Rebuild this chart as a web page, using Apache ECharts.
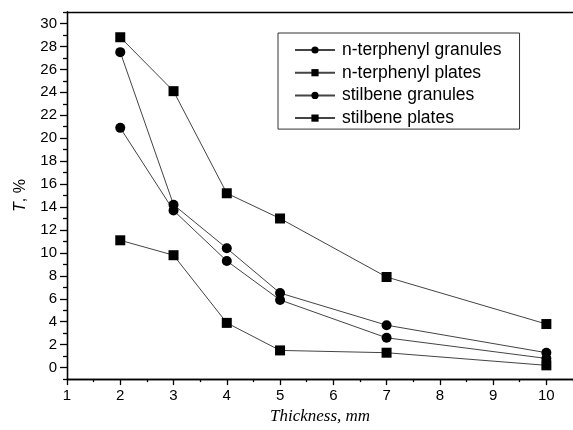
<!DOCTYPE html>
<html>
<head>
<meta charset="utf-8">
<script src="https://cdn.jsdelivr.net/npm/echarts@6/dist/echarts.min.js"></script>
<style>html,body{margin:0;padding:0;background:#fff}#c{width:573px;height:430px}</style>
</head>
<body>
<div id="c"></div>
<script>
const xValues = [2, 3, 4, 5, 7, 10];
const ntGranules = [27.5, 14.2, 10.4, 6.5, 3.7, 1.3];
const ntPlates = [28.8, 24.1, 15.2, 13.0, 7.9, 3.8];
const stGranules = [20.9, 13.7, 9.3, 5.9, 2.6, 0.8];
const stPlates = [11.1, 9.8, 3.9, 1.5, 1.3, 0.2];
const seriesNames = ['n-terphenyl granules', 'n-terphenyl plates', 'stilbene granules', 'stilbene plates'];
const xMajorTicks = [1, 2, 3, 4, 5, 6, 7, 8, 9, 10];
const xMinorTicks = [1.5, 2.5, 3.5, 4.5, 5.5, 6.5, 7.5, 8.5, 9.5, 10.5];
const yMajorTicks = [0, 2, 4, 6, 8, 10, 12, 14, 16, 18, 20, 22, 24, 26, 28, 30];
const yMinorTicks = [-1, 1, 3, 5, 7, 9, 11, 13, 15, 17, 19, 21, 23, 25, 27, 29, 31];

const pairs = arr => xValues.map((x, i) => [x, arr[i]]);
const font = 'Liberation Sans, Arial, sans-serif';
const chart = echarts.init(document.getElementById('c'), null, {renderer: 'canvas'});

const lineStyle = {color: '#444', width: 1};
function mk(name, data, symbol, size) {
  return {
    name, type: 'line', data: pairs(data), symbol, symbolSize: size,
    lineStyle, itemStyle: {color: '#000', borderWidth: 0}, animation: false, z: 3
  };
}

const baseX = {
  type: 'value', min: 1, max: 10.5, gridIndex: 0,
  splitLine: {show: false},
  axisLine: {show: true, onZero: false, lineStyle: {color: '#000', width: 1.3}},
};
const baseY = {
  type: 'value', min: -1, max: 31, gridIndex: 0,
  splitLine: {show: false},
  axisLine: {show: true, onZero: false, lineStyle: {color: '#000', width: 1.3}},
};

chart.setOption({
  animation: false,
  backgroundColor: '#fff',
  grid: {left: 67, top: 12, right: 0, bottom: 47, containLabel: false},
  legend: {
    orient: 'vertical', left: 278, top: 33,
    padding: [8, 18, 2, 16],
    borderColor: '#333', borderWidth: 1,
    itemWidth: 40, itemHeight: 9, itemGap: 4.7,
    textStyle: {fontFamily: font, fontSize: 17.5, color: '#000', padding: [0, 0, 0, 2]},
    data: seriesNames
  },
  xAxis: [
    Object.assign({}, baseX, {
      position: 'bottom',
      name: 'Thickness, mm', nameLocation: 'middle', nameGap: 24,
      nameTextStyle: {fontFamily: 'Liberation Serif, Times New Roman, serif', fontStyle: 'italic', fontSize: 17, color: '#000'},
      axisTick: {show: true, inside: false, length: 6, customValues: xMajorTicks, lineStyle: {color: '#000', width: 1.3}},
      axisLabel: {customValues: xMajorTicks, fontFamily: font, fontSize: 15, color: '#000', margin: 9}
    }),
    Object.assign({}, baseX, {
      position: 'bottom',
      axisTick: {show: true, inside: false, length: 3, customValues: xMinorTicks, lineStyle: {color: '#000', width: 1.3}},
      axisLabel: {show: false}
    }),
    Object.assign({}, baseX, {
      position: 'top',
      axisTick: {show: false},
      axisLabel: {show: false}
    })
  ],
  yAxis: [
    Object.assign({}, baseY, {
      position: 'left',
      name: '{i|T}{n|, %}', nameLocation: 'middle', nameGap: 38, nameRotate: 90,
      nameTextStyle: {
        rich: {
          i: {fontFamily: font, fontStyle: 'italic', fontSize: 16, color: '#000'},
          n: {fontFamily: font, fontSize: 16, color: '#000'}
        }
      },
      axisTick: {show: true, inside: false, length: 7, customValues: yMajorTicks, lineStyle: {color: '#000', width: 1.3}},
      axisLabel: {customValues: yMajorTicks, fontFamily: font, fontSize: 15, color: '#000', margin: 10}
    }),
    Object.assign({}, baseY, {
      position: 'left',
      axisTick: {show: true, inside: false, length: 4, customValues: yMinorTicks, lineStyle: {color: '#000', width: 1.3}},
      axisLabel: {show: false}
    })
  ],
  series: [
    mk(seriesNames[0], ntGranules, 'circle', 10),
    mk(seriesNames[1], ntPlates, 'rect', 10),
    mk(seriesNames[2], stGranules, 'circle', 10),
    mk(seriesNames[3], stPlates, 'rect', 10)
  ]
});
</script>
</body>
</html>
